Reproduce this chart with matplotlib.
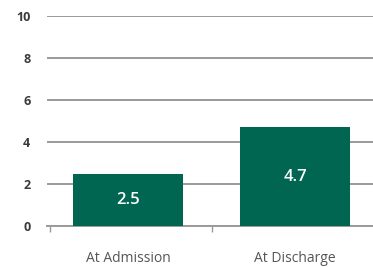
import matplotlib
matplotlib.use("Agg")
import matplotlib.pyplot as plt

categories = ["At Admission", "At Discharge"]
values = [2.5, 4.7]
labels = ["2.5", "4.7"]
yticks = [0, 2, 4, 6, 8, 10]

BAR = "#006651"
GRID = "#9a9a9a"

plt.rcParams["font.family"] = ["Open Sans", "DejaVu Sans"]

fig = plt.figure(figsize=(3.73, 2.67), dpi=100)
ax = fig.add_axes([47 / 373, 41 / 267, 326 / 373, 210 / 267])

x = list(range(len(categories)))
ax.bar(x, values, width=0.66, color=BAR, zorder=3)
for xi, v, lab in zip(x, values, labels):
    ax.text(xi, v / 2, lab, ha="center", va="center", color="white",
            fontsize=12, fontweight="semibold", zorder=4)

ax.set_ylim(0, 10)
ax.set_xlim(-0.485, 1.467)
ax.set_yticks(yticks)
ax.set_yticklabels([str(t) for t in yticks], fontsize=9, fontweight="bold", color="#3a3a3a")
ax.yaxis.grid(True, color=GRID, lw=1.4, zorder=0)
ax.tick_params(axis="y", length=0, pad=12)

ax.set_xticks(x)
ax.set_xticklabels(categories, fontsize=10, color="#555555")
ax.tick_params(axis="x", length=0, pad=18)
ax.set_xticks([-0.47, 0.5], minor=True)
ax.tick_params(axis="x", which="minor", length=4, width=1, color=GRID)

for s in ["top", "right", "left"]:
    ax.spines[s].set_visible(False)
ax.spines["bottom"].set_color(GRID)
ax.spines["bottom"].set_linewidth(1.4)

fig.savefig("out.png", dpi=100)
